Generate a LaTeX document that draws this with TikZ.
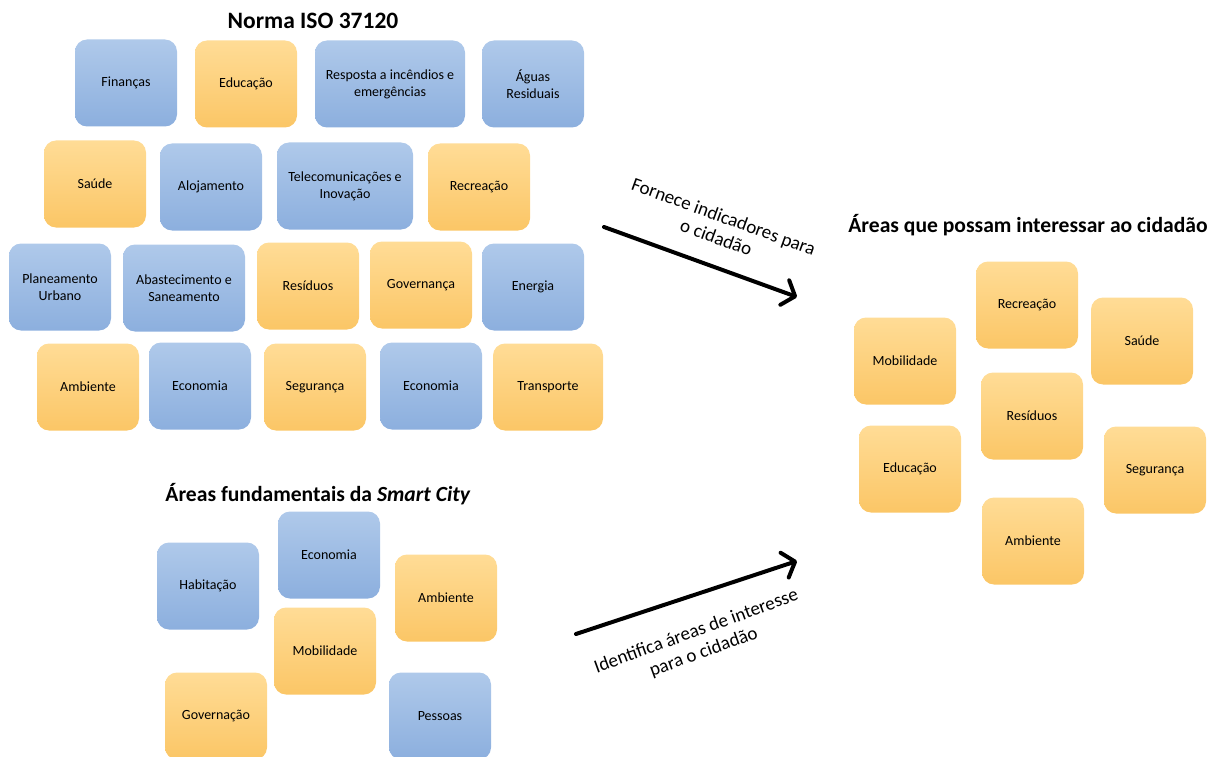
\documentclass[tikz,border=0pt]{standalone}
\usepackage{fontspec}
\setmainfont{Carlito}
\usetikzlibrary{arrows.meta}

\definecolor{blueTop}{RGB}{175,201,234}
\definecolor{blueBot}{RGB}{140,175,222}
\definecolor{orangeTop}{RGB}{255,220,150}
\definecolor{orangeBot}{RGB}{251,198,102}

\begin{document}
\begin{tikzpicture}[x=1pt,y=-1pt]
\tikzset{area/.style={rounded corners=12pt, minimum width=102pt, minimum height=87pt, inner sep=2pt, align=center, font=\fontsize{14}{17}\selectfont},
  bluearea/.style={area, top color=blueTop, bottom color=blueBot},
  orangearea/.style={area, top color=orangeTop, bottom color=orangeBot},
  heading/.style={font=\fontsize{21.6}{25}\selectfont\bfseries},
  flow/.style={line width=4pt, line cap=round, -{Straight Barb[length=11pt, width=26pt, round]}},
  flowlabel/.style={font=\fontsize{19}{22}\selectfont, align=center}}
\useasboundingbox (0,0) rectangle (1211,757);

% Norma ISO 37120
\node[heading, font=\fontsize{23.5}{26}\selectfont\bfseries] (isoTitle) at (313,21) {Norma ISO 37120};
\node[bluearea] (fin) at (126,83) {Finanças};
\node[orangearea] (edu) at (246,84) {Educação};
\node[bluearea, minimum width=150pt] (resp) at (390,84) {Resposta a incêndios e\\emergências};
\node[bluearea] (agua) at (533,84) {Águas\\Residuais};

\node[orangearea] (sau) at (95,184) {Saúde};
\node[bluearea] (aloj) at (211,187) {Alojamento};
\node[bluearea, minimum width=136pt] (tele) at (345,186) {Telecomunicações e\\Inovação};
\node[orangearea] (recr) at (479,187) {Recreação};

\node[bluearea] (plan) at (60,287) {Planeamento\\Urbano};
\node[bluearea, minimum width=122pt] (abast) at (184,288) {Abastecimento e\\Saneamento};
\node[orangearea] (resi) at (308,286) {Resíduos};
\node[orangearea] (gov) at (421,285) {Governança};
\node[bluearea] (ener) at (533,287) {Energia};

\node[orangearea] (amb) at (88,387) {Ambiente};
\node[bluearea] (eco) at (200,386) {Economia};
\node[orangearea] (seg) at (315,387) {Segurança};
\node[bluearea] (ecoB) at (431,386) {Economia};
\node[orangearea, minimum width=110pt] (trans) at (548,387) {Transporte};

% areas fundamentais
\node[heading] (scTitle) at (318,494) {Áreas fundamentais da \textit{Smart City}};
\node[bluearea] (hab) at (208,586) {Habitação};
\node[bluearea] (scEco) at (329,555) {Economia};
\node[orangearea] (scAmb) at (446,598) {Ambiente};
\node[orangearea] (scMob) at (325,651) {Mobilidade};
\node[orangearea] (scGov) at (216,716) {Governação};
\node[bluearea] (pes) at (440,716) {Pessoas};

% areas do cidadao
\node[heading] (cdTitle) at (1028,225) {Áreas que possam interessar ao cidadão};
\node[orangearea] (cdRecr) at (1027,305) {Recreação};
\node[orangearea] (cdSau) at (1142,341) {Saúde};
\node[orangearea] (cdMob) at (905,361) {Mobilidade};
\node[orangearea] (cdResi) at (1032,416) {Resíduos};
\node[orangearea] (cdEdu) at (910,469) {Educação};
\node[orangearea] (cdSeg) at (1155,470) {Segurança};
\node[orangearea] (cdAmb) at (1033,541) {Ambiente};

% setas
\coordinate (f1a) at (604,227);
\coordinate (f1b) at (797,297);
\coordinate (f2a) at (576,634);
\coordinate (f2b) at (797,561);
\draw[flow] (f1a) -- (f1b);
\draw[flow] (f2a) -- (f2b);
\node[flowlabel, rotate=-20] (f1lab) at (720,227) {Fornece indicadores para\\o cidadão};
\node[flowlabel, rotate=20] (f2lab) at (700,642) {Identifica áreas de interesse\\para o cidadão};
\end{tikzpicture}
\end{document}
